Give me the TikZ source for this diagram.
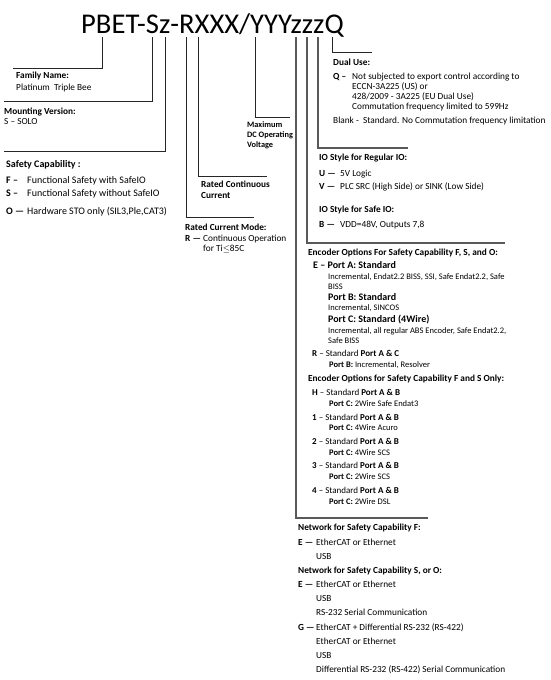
\documentclass[tikz,border=0pt]{standalone}
\usepackage{amsmath}
\usepackage{fontspec}
\setmainfont{Carlito}
\usepackage{tikz}
\newcommand{\fsz}[1]{\fontsize{#1}{#1}\selectfont}
\newcommand{\opt}[3]{\makebox[#1pt][l]{\textbf{#2}}#3}
\tikzset{
	lead/.style={draw=black!85,line width=0.8pt},
	leadb/.style={draw=black!65,line width=1.4pt},
	txt/.style={anchor=base west,inner sep=0pt,font=\fsz{9.3}},
	hd/.style={txt,font=\fsz{9.3}\bfseries},
	sm/.style={txt,font=\fsz{8.5}}
}
\begin{document}
\begin{tikzpicture}[x=1pt,y=-1pt] % 一个坐标单位对应一个像素
				\useasboundingbox (0,0) rectangle (550,680);
				\node[anchor=base west,inner sep=0pt,font=\fsz{28.6}](PN) at (81,33) {PBET-Sz-RXXX/YYYzzzQ};
				\coordinate(aB) at (102,37);\coordinate(bB) at (13,68);
				\coordinate(aS) at (152,37);\coordinate(bS) at (4,101);
				\coordinate(az) at (165,37);\coordinate(bz) at (4,151);
				\coordinate(aR) at (186,37);\coordinate(bR) at (254,217);
				\coordinate(aX) at (198,37);\coordinate(bX) at (267,176);
				\coordinate(aY) at (255,37);\coordinate(bY) at (290,117);
				\coordinate(aZ1) at (296,37);\coordinate(bZ1) at (428,518);
				\coordinate(aZ2) at (307,37);\coordinate(bZ2) at (505,243);
				\coordinate(aZ3) at (318,37);\coordinate(bZ3) at (408,148);
				\coordinate(aQ) at (332,37);\coordinate(bQ) at (372,52);
				\draw[lead] (aB) |- (bB);\draw[lead] (aS) |- (bS);\draw[lead] (az) |- (bz);
				\draw[lead] (aR) |- (bR);\draw[lead] (aX) |- (bX);\draw[lead] (aY) |- (bY);
				\draw[leadb] (aZ1) |- (bZ1);\draw[leadb] (aZ2) |- (bZ2);\draw[leadb] (aZ3) |- (bZ3);
				\draw[lead] (aQ) |- (bQ);
				\node[hd](F1) at (16,78) {Family Name:};\node[txt](F2) at (16,90) {Platinum\ \ Triple Bee};
				\node[hd](M1) at (4,114) {Mounting Version:};\node[txt](M2) at (4,124) {S -- SOLO};
				\node[hd,font=\fsz{10}\bfseries](S1) at (6,167) {Safety Capability :};
				\node[txt,font=\fsz{10}](S2) at (6,183) {\opt{21}{F --}{Functional Safety with SafeIO}};
				\node[txt,font=\fsz{10}](S3) at (6,196) {\opt{21}{S --}{Functional Safety without SafeIO}};
				\node[txt,font=\fsz{10}](S4) at (6,214) {\opt{21}{O ---}{Hardware STO only (SIL3,Ple,CAT3)}};
				\node[hd](C1) at (201,187) {Rated Continuous};\node[hd](C2) at (201,198) {Current};
				\node[hd](R1) at (185,230) {Rated Current Mode:};
				\node[txt](R2) at (185,241) {\opt{18}{R ---}{Continuous Operation}};
				\node[txt](R3) at (203,251) {for Ti$\le$85C};
				\node[hd,font=\fsz{8.3}\bfseries](V1) at (247,127) {Maximum};
				\node[hd,font=\fsz{8.3}\bfseries](V2) at (247,137) {DC Operating};
				\node[hd,font=\fsz{8.3}\bfseries](V3) at (247,147) {Voltage};
				\node[hd](D1) at (333,65) {Dual Use:};
				\node[txt](D2) at (333,79) {\opt{19}{Q\ --}{Not subjected to export control according to}};
				\node[txt](D3) at (352,89) {ECCN-3A225 (US) or};\node[txt](D4) at (352,99) {428/2009 - 3A225 (EU Dual Use)};
				\node[txt](D5) at (352,109) {Commutation frequency limited to 599Hz};
				\node[txt](D6) at (333,123) {Blank -\ \ Standard. No Commutation frequency limitation};
				\node[hd](I1) at (319,160) {IO Style for Regular IO:};
				\node[txt](I2) at (319,176) {\opt{21}{U ---}{5V Logic}};
				\node[txt](I3) at (319,189) {\opt{21}{V ---}{PLC SRC (High Side) or SINK (Low Side)}};
				\node[hd](I4) at (319,212) {IO Style for Safe IO:};
				\node[txt](I5) at (319,227) {\opt{21}{B ---}{VDD=48V, Outputs 7,8}};
				\node[hd](E1) at (308,255) {Encoder Options For Safety Capability F, S, and O:};
				\node[hd,font=\fsz{10}\bfseries](E2) at (313,268) {E -- Port A: Standard};
				\node[sm](E3) at (328,279) {Incremental, Endat2.2 BISS, SSI, Safe Endat2.2, Safe};\node[sm](E4) at (328,289) {BISS};
				\node[hd,font=\fsz{10}\bfseries](E5) at (328,300) {Port B: Standard};\node[sm](E6) at (328,310) {Incremental, SINCOS};
				\node[hd,font=\fsz{10}\bfseries](E7) at (328,322) {Port C: Standard (4Wire)};
				\node[sm](E8) at (328,333) {Incremental, all regular ABS Encoder, Safe Endat2.2,};\node[sm](E9) at (328,343) {Safe BISS};
				\node[txt,font=\fsz{9}](E10) at (312,356) {\textbf{R} -- Standard \textbf{Port A \& C}};
				\node[sm](E11) at (329,367) {\textbf{Port B:} Incremental, Resolver};
				\node[hd](E12) at (308,381) {Encoder Options for Safety Capability F and S Only:};
				\node[txt,font=\fsz{9}](E13) at (312,395) {\textbf{H} -- Standard \textbf{Port A \& B}};
				\node[sm](E14) at (329,406) {\textbf{Port C:} 2Wire Safe Endat3};
				\node[txt,font=\fsz{9}](E15) at (312,420) {\textbf{1} -- Standard \textbf{Port A \& B}};
				\node[sm](E16) at (329,430) {\textbf{Port C:} 4Wire Acuro};
				\node[txt,font=\fsz{9}](E17) at (312,444) {\textbf{2} -- Standard \textbf{Port A \& B}};
				\node[sm](E18) at (329,455) {\textbf{Port C:} 4Wire SCS};
				\node[txt,font=\fsz{9}](E19) at (312,468) {\textbf{3} -- Standard \textbf{Port A \& B}};
				\node[sm](E20) at (329,479) {\textbf{Port C:} 2Wire SCS};
				\node[txt,font=\fsz{9}](E21) at (312,493) {\textbf{4} -- Standard \textbf{Port A \& B}};
				\node[sm](E22) at (329,504) {\textbf{Port C:} 2Wire DSL};
				\node[hd](N1) at (298,530) {Network for Safety Capability F:};
				\node[txt](N2) at (298,545) {\opt{18}{E ---}{EtherCAT or Ethernet}};\node[txt](N3) at (316,559) {USB};
				\node[hd](N4) at (298,573) {Network for Safety Capability S, or O:};
				\node[txt](N5) at (298,587) {\opt{18}{E ---}{EtherCAT or Ethernet}};\node[txt](N6) at (316,601) {USB};
				\node[txt](N7) at (316,615) {RS-232 Serial Communication};
				\node[txt](N8) at (298,630) {\opt{18}{G ---}{EtherCAT + Differential RS-232 (RS-422)}};
				\node[txt](N9) at (316,644) {EtherCAT or Ethernet};\node[txt](N10) at (316,658) {USB};
				\node[txt](N11) at (316,672) {Differential RS-232 (RS-422) Serial Communication};
			\end{tikzpicture}
\end{document}
